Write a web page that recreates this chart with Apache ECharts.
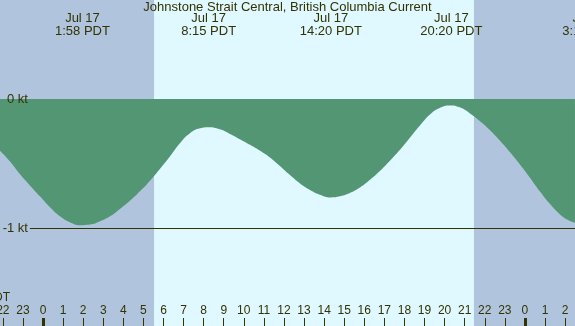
<!DOCTYPE html>
<html>
<head>
<meta charset="utf-8">
<script src="https://cdn.jsdelivr.net/npm/echarts@6/dist/echarts.min.js"></script>
<style>
  html, body { margin: 0; padding: 0; }
  #chart { width: 575px; height: 326px; }
</style>
</head>
<body>
<div id="chart"></div>
<script>
// current speed (kt), hours from local midnight Jul 17
var hours = [-2.14, -1.64, -1.15, -0.65, -0.15, 0.35, 0.85, 1.34, 1.84, 2.34, 2.84, 3.34, 3.83,
             4.33, 4.83, 5.33, 5.83, 6.32, 6.82, 7.32, 7.82, 8.25, 8.81, 9.31, 9.81, 10.31,
             10.81, 11.3, 11.8, 12.3, 12.8, 13.3, 13.8, 14.33, 14.8, 15.3, 15.8, 16.3,
             16.8, 17.3, 17.8, 18.3, 18.8, 19.27, 19.75, 20.27, 20.75, 21.25, 21.75,
             22.25, 22.75, 23.25, 23.75, 24.25, 24.75, 25.25, 25.75, 26.1, 26.49];
var speeds = [-0.402, -0.485, -0.582, -0.67, -0.755, -0.84, -0.91, -0.956, -0.979, -0.974, -0.948, -0.91, -0.853,
              -0.789, -0.716, -0.634, -0.541, -0.446, -0.343, -0.265, -0.227, -0.219, -0.235, -0.271, -0.312, -0.356,
              -0.402, -0.454, -0.52, -0.59, -0.655, -0.705, -0.742, -0.763, -0.755, -0.728, -0.685, -0.625,
              -0.555, -0.475, -0.39, -0.295, -0.2, -0.12, -0.07, -0.05, -0.065, -0.11, -0.17,
              -0.24, -0.322, -0.412, -0.508, -0.61, -0.718, -0.815, -0.895, -0.935, -0.961];

// slack / max current times shown along the top
var eventHours = [1.967, 8.25, 14.333, 20.333, 27.23];
var eventDates = ['Jul 17', 'Jul 17', 'Jul 17', 'Jul 17', 'Jul 18'];
var eventTimes = ['1:58 PDT', '8:15 PDT', '14:20 PDT', '20:20 PDT', '3:14 PDT'];

var sunrise = 5.53;
var sunset = 21.46;

var hourTicks = [];
for (var h = -2; h <= 29; h++) hourTicks.push(h);
var midnights = [0, 24];

var levelValues = [0, -1];
var levelLabels = ['0 kt', '-1 kt'];

var xMin = -2.14, xMax = 29.48;
var yMin = -1.76, yMax = 0.767;

var ink = '#333300';
var fontFam = 'Liberation Sans, Arial, sans-serif';

var chart = echarts.init(document.getElementById('chart'));

function baseAxis(pos) {
    return {
        type: 'value', position: pos, min: xMin, max: xMax, z: 10,
        axisLine: { show: false, onZero: false }, splitLine: { show: false },
        axisTick: { show: false }, axisLabel: { show: false }
    };
}

var bottomAxis = baseAxis('bottom');
bottomAxis.axisTick = { show: true, inside: true, length: 8, customValues: hourTicks,
                        lineStyle: { color: ink, width: 1 } };
bottomAxis.axisLabel = { show: true, inside: true, margin: 9, customValues: hourTicks,
                         color: ink, fontSize: 12, fontFamily: fontFam,
                         formatter: function (v) { return String(((Math.round(v) % 24) + 24) % 24); } };

var topAxis = baseAxis('top');
topAxis.axisLabel = { show: true, inside: true, margin: 12, customValues: eventHours,
                      color: ink, fontSize: 13, fontFamily: fontFam, lineHeight: 13,
                      formatter: function (v) {
                          var i = eventHours.indexOf(v);
                          return eventDates[i] + '\n' + eventTimes[i];
                      } };

var midnightAxis = baseAxis('bottom');
midnightAxis.axisTick = { show: true, inside: true, length: 8, customValues: midnights,
                          lineStyle: { color: ink, width: 3 } };

var option = {
    backgroundColor: '#e0f8ff',
    animation: false,
    title: {
        text: 'Johnstone Strait Central, British Columbia Current',
        left: 'center', top: 0, padding: [1, 5],
        textStyle: { color: ink, fontSize: 13, fontWeight: 'normal', fontFamily: fontFam }
    },
    grid: { left: 0, right: -60, top: 0, bottom: 0, containLabel: false, outerBoundsMode: 'none' },
    xAxis: [bottomAxis, topAxis, midnightAxis],
    yAxis: { type: 'value', min: yMin, max: yMax, show: false },
    graphic: [{
        type: 'text', right: 565, top: 292, z: 20,
        style: { text: 'PDT', fill: ink, fontSize: 12, fontFamily: fontFam }
    }],
    series: [
        {
            // night shading
            type: 'line', data: [], z: 1, silent: true,
            markArea: {
                silent: true,
                itemStyle: { color: '#b0c4de' },
                data: [[{ xAxis: xMin }, { xAxis: sunrise }], [{ xAxis: sunset }, { xAxis: xMax }]]
            }
        },
        {
            type: 'line', z: 2,
            data: hours.map(function (h, i) { return [h, speeds[i]]; }),
            smooth: 0.5,
            showSymbol: false,
            lineStyle: { width: 0 },
            areaStyle: { color: '#529673', opacity: 1 },
            markLine: {
                silent: true, symbol: 'none',
                label: { position: 'start', distance: 2, color: ink, fontSize: 13, fontFamily: fontFam,
                          formatter: function (p) { return levelLabels[levelValues.indexOf(p.data.coord[1])]; } },
                data: levelValues.map(function (v) {
                    return [{ coord: [-0.65, v], lineStyle: { color: ink, width: v === 0 ? 0 : 1, type: 'solid' } },
                            { coord: [xMax, v] }];
                })
            }
        }
    ]
};
chart.setOption(option);
</script>
</body>
</html>
